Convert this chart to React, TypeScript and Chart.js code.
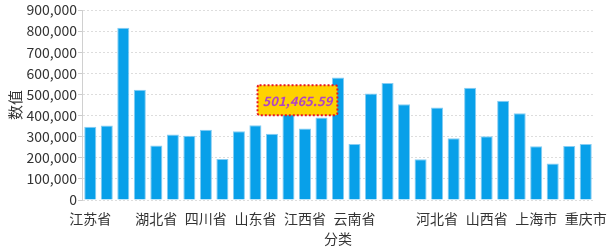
import React, { useEffect, useRef } from "react";
import { Chart, registerables } from "chart.js";

Chart.register(...registerables);

const categories = [
  "江苏省", "浙江省", "广东省", "安徽省", "湖北省", "福建省", "湖南省", "四川省",
  "河南省", "北京市", "山东省", "陕西省", "辽宁省", "江西省", "贵州省", "天津市",
  "云南省", "内蒙古自治区", "广西壮族自治区", "新疆维吾尔自治区", "黑龙江省", "河北省",
  "吉林省", "甘肃省", "山西省", "海南省", "宁夏回族自治区", "上海市", "青海省", "西藏自治区", "重庆市",
];

const values = [
  346500, 352800, 816500, 522000, 258000, 310000, 303800, 332300,
  194600, 326000, 354400, 313300, 501465.59, 338600, 390800, 580700,
  265800, 504700, 553800, 454100, 193000, 438300, 292700, 531600,
  302200, 470000, 411400, 254700, 172500, 256300, 265800,
];

const shownLabelIndices = [0, 4, 7, 10, 13, 16, 21, 24, 27, 30];
const highlightIndex = 12;
const yTicks = [0, 100000, 200000, 300000, 400000, 500000, 600000, 700000, 800000, 900000];

const FONT = "'Noto Sans CJK SC', 'Noto Sans', sans-serif";

const fmt = (v: number, dec = 0) =>
  v.toLocaleString("en-US", { minimumFractionDigits: dec, maximumFractionDigits: dec });

const labelPlugin = {
  id: "highlightLabel",
  afterDatasetsDraw(chart: any) {
    const meta = chart.getDatasetMeta(0);
    const el = meta.data[highlightIndex];
    if (!el) return;
    const ctx = chart.ctx;
    const text = fmt(values[highlightIndex], 2);
    ctx.save();
    ctx.font = `italic bold 13px ${FONT}`;
    const tw = ctx.measureText(text).width;
    const w = tw + 10;
    const h = 30;
    const cx = el.x + 9;
    const cy = el.y + 6;
    const x = cx - w / 2;
    const y = cy - h / 2;
    ctx.beginPath();
    ctx.roundRect(x, y, w, h, 2);
    ctx.fillStyle = "#ffd200";
    ctx.fill();
    ctx.setLineDash([2, 2]);
    ctx.lineWidth = 2;
    ctx.strokeStyle = "#e8141e";
    ctx.stroke();
    ctx.setLineDash([]);
    ctx.fillStyle = "#b044c4";
    ctx.textAlign = "center";
    ctx.textBaseline = "middle";
    ctx.fillText(text, cx, cy + 1);
    ctx.restore();
  },
};

export default function App() {
  const ref = useRef<HTMLCanvasElement>(null);
  useEffect(() => {
    document.body.style.margin = "0";
    const chart = new Chart(ref.current!, {
      type: "bar",
      data: {
        labels: categories,
        datasets: [
          {
            data: values,
            backgroundColor: "#08a0e9",
            borderColor: "#86cdf3",
            borderWidth: 1,
            categoryPercentage: 1,
            barPercentage: 0.73,
          },
        ],
      },
      options: {
        animation: false,
        responsive: false,
        devicePixelRatio: 1,
        layout: { padding: { left: 0, right: 16, top: 10, bottom: 0 } },
        plugins: { legend: { display: false }, tooltip: { enabled: false } },
        scales: {
          x: {
            grid: { display: false },
            border: { display: false },
            ticks: {
              autoSkip: false,
              maxRotation: 0,
              minRotation: 0,
              padding: 2,
              color: "#333",
              font: { family: FONT, size: 14 },
              callback: (_v: any, i: number) => (shownLabelIndices.includes(i) ? categories[i] : ""),
            },
            title: {
              display: true,
              text: "分类",
              color: "#333",
              font: { family: FONT, size: 14 },
              padding: { top: 0, bottom: 5 },
            },
            afterFit: (s: any) => {
              s.height = 52;
            },
          },
          y: {
            min: 0,
            max: 900000,
            afterBuildTicks: (s: any) => {
              s.ticks = yTicks.map((v) => ({ value: v }));
            },
            grid: {
              color: "#dddddd",
              lineWidth: 1,
              tickLength: 4,
              drawTicks: true,
              tickColor: "#cccccc",
            },
            border: { display: true, color: "#d0d0d0", dash: [2, 2] },
            ticks: {
              padding: 1,
              color: "#333",
              font: { family: FONT, size: 14 },
              callback: (v: any) => fmt(Number(v)),
            },
            title: {
              display: true,
              text: "数值",
              color: "#333",
              font: { family: FONT, size: 15 },
              padding: { top: 6, bottom: 0 },
            },
            afterFit: (s: any) => {
              s.width = 82;
            },
          },
        },
      },
      plugins: [labelPlugin],
    });
    return () => chart.destroy();
  }, []);
  return (
    <div style={{ position: "absolute", left: 0, top: 0, width: 610, height: 252 }}>
      <canvas ref={ref} width={610} height={252} style={{ width: 610, height: 252 }} />
    </div>
  );
}
